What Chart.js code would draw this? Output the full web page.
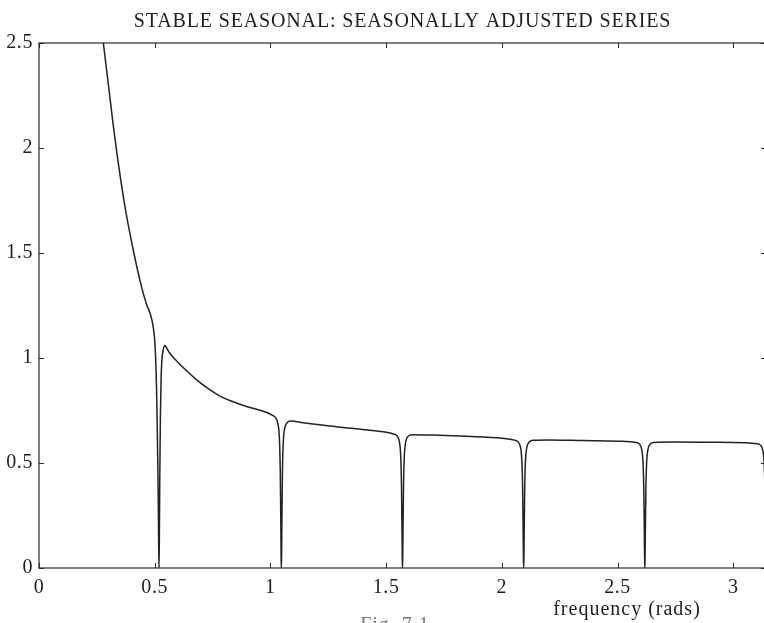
<!DOCTYPE html>
<html>
<head>
<meta charset="utf-8">
<script src="https://cdn.jsdelivr.net/npm/chart.js@4"></script>
<style>
  html, body { margin: 0; padding: 0; background: #ffffff; overflow: hidden; }
  #wrap { width: 772px; height: 623px; }
</style>
</head>
<body>
<div id="wrap"><canvas id="c" width="772" height="623"></canvas></div>
<script>
// Spectrum of the seasonally adjusted series (stable seasonal model)
const chartTitle = 'STABLE SEASONAL: SEASONALLY ADJUSTED SERIES';
const xAxisLabel = 'frequency (rads)';
const figLabel = 'Fig. 7.1';

const xTickValues = [0, 0.5, 1, 1.5, 2, 2.5, 3];
const yTickValues = [0, 0.5, 1, 1.5, 2, 2.5];

// frequency (rads)
const frequency = [
  0.26, 0.278, 0.30, 0.33, 0.37, 0.41, 0.444, 0.465, 0.4836, 0.494,
  0.4996, 0.5036, 0.5076, 0.5106, 0.5136, 0.5156, 0.5171, 0.5186,
  0.5201, 0.5221, 0.5246, 0.5276, 0.531, 0.537, 0.5445, 0.553, 0.5636,
  0.60, 0.64, 0.68, 0.73, 0.78, 0.83, 0.90, 0.955, 0.99,
  1.0072, 1.0222, 1.0322, 1.0372, 1.0402, 1.0427, 1.0447, 1.0462, 1.0472,
  1.0482, 1.0497, 1.0517, 1.0542, 1.0572, 1.0622, 1.0722, 1.0872,
  1.15, 1.29, 1.42, 1.50,
  1.5308, 1.5458, 1.5558, 1.5608, 1.5638, 1.5663, 1.5683, 1.5698, 1.5708,
  1.5718, 1.5733, 1.5753, 1.5778, 1.5808, 1.5858, 1.5958, 1.6108,
  1.70, 1.85, 2.00,
  2.0544, 2.0694, 2.0794, 2.0844, 2.0874, 2.0899, 2.0919, 2.0934, 2.0944,
  2.0954, 2.0969, 2.0989, 2.1014, 2.1044, 2.1094, 2.1194, 2.1344,
  2.20, 2.35, 2.50,
  2.5780, 2.5930, 2.6030, 2.6080, 2.6110, 2.6135, 2.6155, 2.6170, 2.6180,
  2.6190, 2.6205, 2.6225, 2.6250, 2.6280, 2.6330, 2.6430, 2.6580,
  2.75, 2.90, 3.05,
  3.1016, 3.1166, 3.1266, 3.1316, 3.1346, 3.1371, 3.1391, 3.1406, 3.1416
];

// spectral density
const spectrum = [
  2.66, 2.50, 2.30, 2.03, 1.73, 1.50, 1.335, 1.255, 1.20, 1.145,
  1.09, 1.01, 0.87, 0.70, 0.48, 0.30, 0.12, 0.0,
  0.15, 0.45, 0.72, 0.90, 0.99, 1.04, 1.059, 1.045, 1.025,
  0.98, 0.937, 0.897, 0.855, 0.82, 0.795, 0.768, 0.751, 0.738,
  0.728, 0.716, 0.689, 0.647, 0.58, 0.452, 0.245, 0.054, 0.0,
  0.053, 0.238, 0.439, 0.564, 0.628, 0.668, 0.692, 0.70,
  0.69, 0.672, 0.657, 0.646,
  0.638, 0.631, 0.61, 0.573, 0.515, 0.401, 0.218, 0.048, 0.0,
  0.048, 0.216, 0.399, 0.512, 0.57, 0.607, 0.628, 0.635,
  0.633, 0.627, 0.618,
  0.609, 0.601, 0.581, 0.546, 0.49, 0.382, 0.207, 0.046, 0.0,
  0.046, 0.207, 0.382, 0.49, 0.546, 0.581, 0.601, 0.608,
  0.610, 0.607, 0.604,
  0.598, 0.592, 0.572, 0.537, 0.482, 0.376, 0.204, 0.045, 0.0,
  0.045, 0.204, 0.376, 0.482, 0.537, 0.572, 0.592, 0.598,
  0.600, 0.599, 0.597,
  0.592, 0.586, 0.566, 0.532, 0.478, 0.372, 0.202, 0.045, 0.0
];

const points = frequency.map((f, i) => ({ x: f, y: spectrum[i] }));

const FONT = '"Liberation Serif", "Times New Roman", serif';
const INK = '#1e1e1e';

// Box frame, inward tick marks, title and axis caption
const framePlugin = {
  id: 'frame',
  beforeDraw(chart) {
    // slightly wider lettering for tick labels
    chart.ctx.letterSpacing = '0.6px';
  },
  afterDraw(chart) {
    const { ctx, chartArea: a, scales } = chart;
    const xs = scales.x, ys = scales.y;
    ctx.save();
    ctx.strokeStyle = '#2a2a2a';
    ctx.lineWidth = 1.2;
    ctx.strokeRect(a.left, a.top, a.right - a.left, a.bottom - a.top);
    const tl = 5;
    ctx.lineWidth = 1;
    ctx.beginPath();
    xs.ticks.forEach(t => {
      const px = Math.round(xs.getPixelForValue(t.value)) + 0.5;
      ctx.moveTo(px, a.bottom); ctx.lineTo(px, a.bottom - tl);
      ctx.moveTo(px, a.top); ctx.lineTo(px, a.top + tl);
    });
    ys.ticks.forEach(t => {
      const py = Math.round(ys.getPixelForValue(t.value)) + 0.5;
      ctx.moveTo(a.left, py); ctx.lineTo(a.left + tl, py);
      ctx.moveTo(a.right, py); ctx.lineTo(a.right - tl, py);
    });
    ctx.stroke();

    ctx.fillStyle = INK;
    ctx.textAlign = 'center';
    ctx.textBaseline = 'alphabetic';
    ctx.font = '20px ' + FONT;
    ctx.letterSpacing = '0.85px';
    ctx.fillText(chartTitle, (a.left + a.right) / 2, 27);
    ctx.letterSpacing = '1px';
    ctx.fillText(xAxisLabel, 627, 615);
    ctx.fillStyle = '#777777';
    ctx.fillText(figLabel, 395, 631);
    ctx.restore();
  }
};

new Chart(document.getElementById('c'), {
  type: 'line',
  data: {
    datasets: [{
      data: points,
      borderColor: '#222222',
      borderWidth: 1.5,
      pointRadius: 0,
      fill: false,
      cubicInterpolationMode: 'monotone'
    }]
  },
  options: {
    responsive: false,
    animation: false,
    events: [],
    layout: { padding: { top: 43, right: 6, left: 0, bottom: 0 } },
    plugins: { legend: { display: false }, tooltip: { enabled: false }, title: { display: false } },
    scales: {
      x: {
        type: 'linear',
        min: 0,
        max: Math.PI,
        afterFit: s => { s.height = 55; },
        afterBuildTicks: s => { s.ticks = xTickValues.map(v => ({ value: v })); },
        grid: { display: false, drawTicks: false },
        border: { display: false },
        ticks: {
          padding: 8,
          maxRotation: 0,
          autoSkip: false,
          color: INK,
          font: { family: FONT, size: 20 },
          callback: v => String(v)
        }
      },
      y: {
        min: 0,
        max: 2.5,
        afterFit: s => { s.width = 39; },
        afterBuildTicks: s => { s.ticks = yTickValues.map(v => ({ value: v })); },
        grid: { display: false, drawTicks: false },
        border: { display: false },
        ticks: {
          padding: 6,
          autoSkip: false,
          color: INK,
          font: { family: FONT, size: 20 },
          callback: v => String(v)
        }
      }
    }
  },
  plugins: [framePlugin]
});
</script>
</body>
</html>
